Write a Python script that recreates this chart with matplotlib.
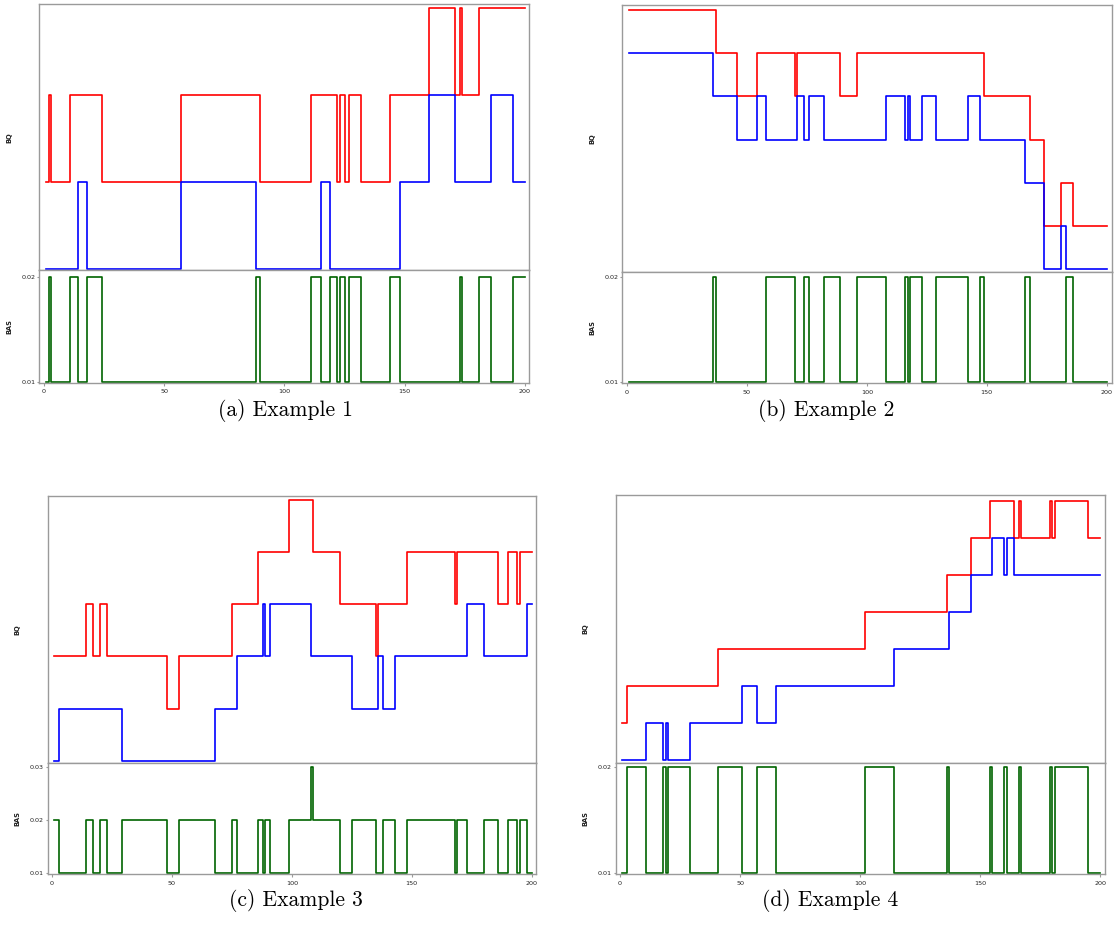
import matplotlib
matplotlib.use("Agg")
import matplotlib.pyplot as plt
import numpy as np

# ---------------- data (change points: value holds from x until next x; series end at 200) ----------------
X_END = 200

# Example 1
a_red_x = [1, 2, 3, 11, 24, 57, 90, 111, 122, 123, 125, 127, 132, 144, 160, 171, 173, 174, 181]
a_red_y = [1, 2, 1, 2, 1, 2, 1, 2, 1, 2, 1, 2, 1, 2, 3, 2, 3, 2, 3]
a_blue_x = [1, 14, 18, 57, 88, 115, 119, 148, 160, 171, 186, 195]
a_blue_y = [0, 1, 0, 1, 0, 1, 0, 1, 2, 1, 2, 1]
a_bas_x = [1, 2, 3, 11, 14, 18, 24, 88, 90, 111, 115, 119, 122, 123, 125, 127, 132, 144, 148, 173, 174, 181, 186, 195]
a_bas_y = [0.01, 0.02, 0.01, 0.02, 0.01, 0.02, 0.01, 0.02, 0.01, 0.02, 0.01, 0.02,
           0.01, 0.02, 0.01, 0.02, 0.01, 0.02, 0.01, 0.02, 0.01, 0.02, 0.01, 0.02]

# Example 2
b_red_x = [1, 37, 46, 54, 70, 71, 89, 96, 149, 168, 174, 181, 186]
b_red_y = [6, 5, 4, 5, 4, 5, 4, 5, 4, 3, 1, 2, 1]
b_blue_x = [1, 36, 46, 54, 58, 71, 74, 76, 82, 108, 116, 117, 118, 123, 129, 142, 147, 166, 174, 181, 183]
b_blue_y = [5, 4, 3, 4, 3, 4, 3, 4, 3, 4, 3, 4, 3, 4, 3, 4, 3, 2, 0, 1, 0]
b_bas_x = [1, 36, 37, 58, 70, 74, 76, 82, 89, 96, 108, 116, 117, 118, 123, 129, 142, 147, 149, 166, 168, 183, 186]
b_bas_y = [0.01, 0.02, 0.01, 0.02, 0.01, 0.02, 0.01, 0.02, 0.01, 0.02, 0.01, 0.02,
           0.01, 0.02, 0.01, 0.02, 0.01, 0.02, 0.01, 0.02, 0.01, 0.02, 0.01]

# Example 3
c_red_x = [1, 14, 17, 20, 23, 48, 53, 75, 86, 99, 109, 120, 135, 136, 148, 168, 169, 186, 190, 194, 195]
c_red_y = [2, 3, 2, 3, 2, 1, 2, 3, 4, 5, 4, 3, 2, 3, 4, 3, 4, 3, 4, 3, 4]
c_blue_x = [1, 3, 29, 68, 77, 88, 89, 91, 108, 125, 136, 138, 143, 173, 180, 198]
c_blue_y = [0, 1, 0, 1, 2, 3, 2, 3, 2, 1, 2, 1, 2, 3, 2, 3]
c_bas_x = [1, 3, 14, 17, 20, 23, 29, 48, 53, 68, 75, 77, 86, 88, 89, 91, 99, 108, 109, 120,
           125, 135, 138, 143, 148, 168, 169, 173, 180, 186, 190, 194, 195, 198]
c_bas_y = [0.02, 0.01, 0.02, 0.01, 0.02, 0.01, 0.02, 0.01, 0.02, 0.01, 0.02, 0.01, 0.02, 0.01,
           0.02, 0.01, 0.02, 0.03, 0.02, 0.01, 0.02, 0.01, 0.02, 0.01, 0.02, 0.01, 0.02, 0.01,
           0.02, 0.01, 0.02, 0.01, 0.02, 0.01]

# Example 4
d_red_x = [1, 3, 41, 102, 136, 146, 154, 164, 166, 167, 179, 180, 181, 195]
d_red_y = [1, 2, 3, 4, 5, 6, 7, 6, 7, 6, 7, 6, 7, 6]
d_blue_x = [1, 11, 18, 19, 20, 29, 51, 57, 65, 114, 137, 146, 155, 160, 161, 164]
d_blue_y = [0, 1, 0, 1, 0, 1, 2, 1, 2, 3, 4, 5, 6, 5, 6, 5]
d_bas_x = [1, 3, 11, 18, 19, 20, 29, 41, 51, 57, 65, 102, 114, 136, 137, 154, 155, 160, 161,
           166, 167, 179, 180, 181, 195]
d_bas_y = [0.01, 0.02, 0.01, 0.02, 0.01, 0.02, 0.01, 0.02, 0.01, 0.02, 0.01, 0.02, 0.01,
           0.02, 0.01, 0.02, 0.01, 0.02, 0.01, 0.02, 0.01, 0.02, 0.01, 0.02, 0.01]

captions = ["(a) Example 1", "(b) Example 2", "(c) Example 3", "(d) Example 4"]
x_ticks = [0, 50, 100, 150, 200]
bas_ticks_abd = [0.01, 0.02]
bas_ticks_c = [0.01, 0.02, 0.03]

# ---------------- layout (pixels) ----------------
W, H = 1115, 940
fig = plt.figure(figsize=(W / 100, H / 100), dpi=100)

SPINE = "#9a9a9a"
TXT = "#222222"

panels = [
    dict(box=(39.3, 529.3, 4.0, 270.3, 382.7), red=(a_red_x, a_red_y), blue=(a_blue_x, a_blue_y),
         bas=(a_bas_x, a_bas_y), bq_lim=(-0.012, 3.05), bas_lim=(0.009905, 0.02061),
         bas_ticks=bas_ticks_abd, xlim=(-1.95, 201.8), cap=(285, 411)),
    dict(box=(622.3, 1111.7, 5.3, 271.7, 383.3), red=(b_red_x, b_red_y), blue=(b_blue_x, b_blue_y),
         bas=(b_bas_x, b_bas_y), bq_lim=(-0.055, 6.11), bas_lim=(0.009905, 0.02047),
         bas_ticks=bas_ticks_abd, xlim=(-1.96, 202.1), cap=(826, 411)),
    dict(box=(47.7, 536.0, 496.0, 762.7, 874.3), red=(c_red_x, c_red_y), blue=(c_blue_x, c_blue_y),
         bas=(c_bas_x, c_bas_y), bq_lim=(-0.038, 5.077), bas_lim=(0.0097, 0.03087),
         bas_ticks=bas_ticks_c, xlim=(-1.8, 201.8), cap=(296, 900)),
    dict(box=(615.7, 1105.0, 495.3, 762.7, 874.3), red=(d_red_x, d_red_y), blue=(d_blue_x, d_blue_y),
         bas=(d_bas_x, d_bas_y), bq_lim=(-0.065, 7.146), bas_lim=(0.00985, 0.02044),
         bas_ticks=bas_ticks_abd, xlim=(-1.8, 202.0), cap=(830, 900)),
]


def step_line(ax, xs, ys, color):
    x = np.append(np.asarray(xs, float), X_END)
    y = np.append(np.asarray(ys, float), ys[-1])
    ax.step(x, y, where="post", color=color, lw=1.2)


def style(ax):
    for s in ax.spines.values():
        s.set_color(SPINE)
        s.set_linewidth(1.0)


for p, cap in zip(panels, captions):
    L, R, T, M, B = p["box"]
    ax_top = fig.add_axes([L / W, 1 - M / H, (R - L) / W, (M - T) / H])
    ax_bot = fig.add_axes([L / W, 1 - B / H, (R - L) / W, (B - M) / H], sharex=ax_top)

    step_line(ax_top, *p["red"], "#ff0000")
    step_line(ax_top, *p["blue"], "#0000ff")
    step_line(ax_bot, *p["bas"], "#006400")

    ax_top.set_xlim(*p["xlim"])
    ax_top.set_ylim(*p["bq_lim"])
    ax_bot.set_ylim(*p["bas_lim"])

    style(ax_top)
    style(ax_bot)
    ax_top.tick_params(axis="both", which="both", bottom=False, left=False,
                       labelbottom=False, labelleft=False)
    ax_bot.set_xticks(x_ticks)
    ax_bot.set_xticklabels([str(t) for t in x_ticks])
    ax_bot.set_yticks(p["bas_ticks"])
    ax_bot.set_yticklabels(["%.2f" % t for t in p["bas_ticks"]])
    ax_bot.tick_params(axis="x", length=2.5, width=0.8, color=SPINE, pad=2.0,
                       labelsize=4.6, labelcolor=TXT)
    ax_bot.tick_params(axis="y", length=1.5, width=0.8, color=SPINE, pad=1.2,
                       labelsize=4.6, labelcolor=TXT)

    wpx = R - L
    ax_top.set_ylabel("BQ", fontsize=4.8, fontweight="bold", color=TXT)
    ax_bot.set_ylabel("BAS", fontsize=4.8, fontweight="bold", color=TXT)
    ax_top.yaxis.set_label_coords(-27.0 / wpx, 0.5)
    ax_bot.yaxis.set_label_coords(-27.0 / wpx, 0.5)

    cx, cy = p["cap"]
    fig.text(cx / W, 1 - cy / H, cap, ha="center", va="center",
             fontsize=15.5, family="cmr10", color="black")

fig.savefig("out.png", dpi=100)
